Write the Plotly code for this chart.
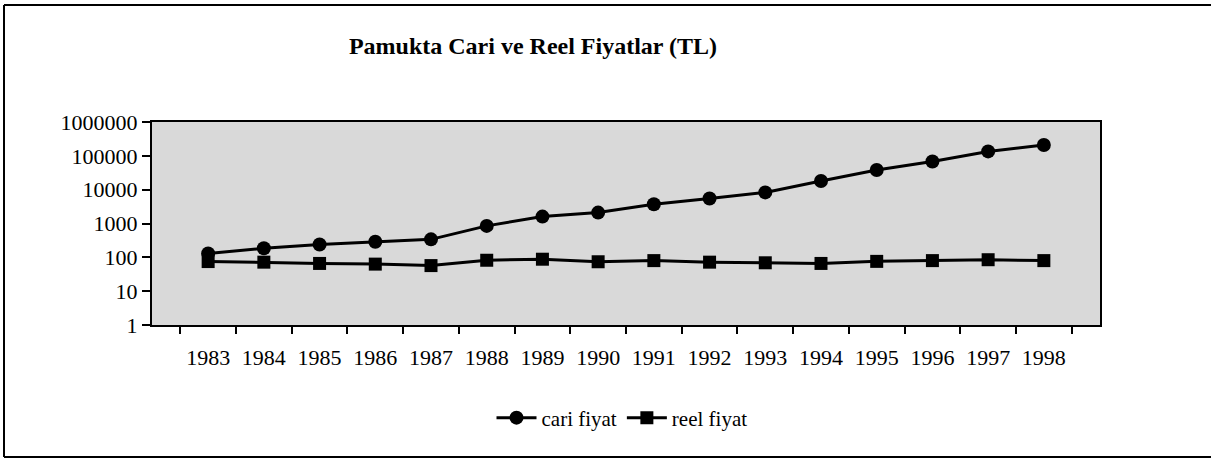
import plotly.graph_objects as go

years = ["1983", "1984", "1985", "1986", "1987", "1988", "1989", "1990",
         "1991", "1992", "1993", "1994", "1995", "1996", "1997", "1998"]
cari_fiyat = [130, 185, 240, 290, 340, 850, 1600, 2100,
              3700, 5500, 8300, 18000, 38000, 68000, 135000, 210000]
reel_fiyat = [75, 72, 66, 63, 57, 82, 88, 74,
              80, 72, 69, 66, 76, 80, 85, 80]
y_ticks = [1, 10, 100, 1000, 10000, 100000, 1000000]

font_family = "Liberation Serif, Times New Roman, serif"

fig = go.Figure()
fig.add_trace(go.Scatter(
    x=years, y=cari_fiyat, name="cari fiyat", mode="lines+markers",
    line=dict(color="black", width=3),
    marker=dict(symbol="circle", size=14, color="black"),
))
fig.add_trace(go.Scatter(
    x=years, y=reel_fiyat, name="reel fiyat", mode="lines+markers",
    line=dict(color="black", width=3),
    marker=dict(symbol="square", size=13, color="black"),
))

W, H = 1211, 459
L, R, T, B = 152, 111, 122, 134
pw, ph = W - L - R, H - T - B

# frame around the whole chart (left, top, bottom edges visible in the scan)
fx0, fx1 = -(L - 4) / pw, (W + 5 - L) / pw
fy0, fy1 = -(457 - T - ph) / ph, 1 + (T - 5) / ph
frame = [
    dict(type="line", xref="paper", yref="paper", x0=fx0, x1=fx1, y0=fy1, y1=fy1,
         line=dict(color="black", width=2)),
    dict(type="line", xref="paper", yref="paper", x0=fx0, x1=fx1, y0=fy0, y1=fy0,
         line=dict(color="black", width=2)),
    dict(type="line", xref="paper", yref="paper", x0=fx0, x1=fx0, y0=fy0, y1=fy1,
         line=dict(color="black", width=2)),
]

fig.update_layout(
    width=W, height=H,
    paper_bgcolor="white",
    plot_bgcolor="#d9d9d9",
    margin=dict(l=L, r=R, t=T, b=B),
    font=dict(family=font_family, color="black", size=22),
    title=dict(text="<b>Pamukta Cari ve Reel Fiyatlar (TL)</b>",
               x=533 / W, xanchor="center", y=1 - 46 / H, yanchor="middle",
               font=dict(size=24, family=font_family, color="black")),
    showlegend=True,
    legend=dict(orientation="h", x=(622 - L) / pw, xanchor="center",
                y=-(418 - T - ph) / ph, yanchor="middle",
                font=dict(size=21), bgcolor="rgba(0,0,0,0)", itemwidth=40),
    shapes=frame,
)
fig.update_xaxes(
    type="category", tickson="boundaries", ticks="outside", ticklen=7, tickwidth=2,
    tickcolor="black", showline=True, linecolor="black", linewidth=2, mirror=True,
    showgrid=False, tickfont=dict(size=22), ticklabelstandoff=12,
)
fig.update_yaxes(
    type="log", range=[0, 6], tickvals=y_ticks, ticktext=[str(v) for v in y_ticks],
    ticks="outside", ticklen=8, tickwidth=2, tickcolor="black",
    showline=True, linecolor="black", linewidth=2, mirror=True,
    showgrid=False, tickfont=dict(size=22), zeroline=False,
)

fig.write_html("out.html", config={"displayModeBar": False},
               post_script="document.body.style.margin='0px';")
